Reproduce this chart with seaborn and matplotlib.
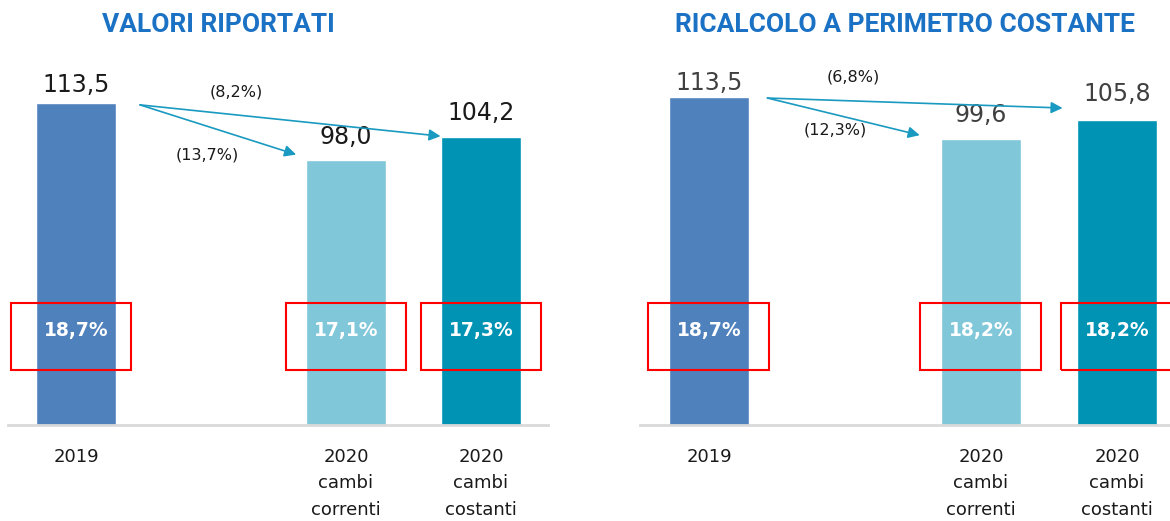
import matplotlib
matplotlib.use("Agg")
import matplotlib.pyplot as plt
import matplotlib.transforms as mtransforms
from matplotlib.patches import Rectangle
import seaborn as sns
import pandas as pd

sns.set_theme(style="white")
plt.rcParams['font.family'] = ['DejaVu Sans']

# ---------------- data ----------------
categories = ["2019", "2020\ncambi\ncorrenti", "2020\ncambi\ncostanti"]
positions = [0, 2, 3]
panel_titles = ["VALORI RIPORTATI", "RICALCOLO A PERIMETRO COSTANTE"]
values_reported = [113.5, 98.0, 104.2]
values_constant = [113.5, 99.6, 105.8]
margin_reported = ["18,7%", "17,1%", "17,3%"]
margin_constant = ["18,7%", "18,2%", "18,2%"]
value_labels_reported = ["113,5", "98,0", "104,2"]
value_labels_constant = ["113,5", "99,6", "105,8"]
change_reported = ["(13,7%)", "(8,2%)"]   # to correnti, to costanti
change_constant = ["(12,3%)", "(6,8%)"]

colors = ["#4F81BD", "#7FC7D9", "#0093B4"]
title_color = "#1B72C4"
arrow_color = "#1A9AC0"

W, H = 1170, 521
fig = plt.figure(figsize=(W / 100, H / 100), dpi=100)

panels = [
    dict(title=panel_titles[0], values=values_reported, margins=margin_reported,
         vlabels=value_labels_reported, changes=change_reported,
         px=(8, 548), xlim=(-0.504, 3.496), ylim=(26.0, 125.2), title_x=218,
         vcolor="#1a1a1a", voff=[18, 23, 24],
         arrow_start=(0.474, 113.0), arrow_ends=[(1.63, 99.5), (2.70, 104.5)],
         change_pos=[(0.97, 99.4), (1.19, 116.5)], box_dx=[-0.04, 0.0, 0.0]),
    dict(title=panel_titles[1], values=values_constant, margins=margin_constant,
         vlabels=value_labels_constant, changes=change_constant,
         px=(640, 1170), xlim=(-0.507, 3.39), ylim=(4.9, 125.8), title_x=905,
         vcolor="#404040", voff=[14, 24, 26],
         arrow_start=(0.43, 113.2), arrow_ends=[(1.55, 100.9), (2.60, 109.9)],
         change_pos=[(0.93, 102.6), (1.06, 120.1)], box_dx=[0.0, 0.0, 0.03]),
]

ax_bottom_px, ax_top_px = 425, 60
for p in panels:
    x0, x1 = p["px"]
    ax = fig.add_axes([x0 / W, (H - ax_bottom_px) / H, (x1 - x0) / W,
                       (ax_bottom_px - ax_top_px) / H])
    df = pd.DataFrame({"pos": positions, "value": p["values"], "cat": categories})
    sns.barplot(data=df, x="pos", y="value", hue="cat", native_scale=True,
                palette=dict(zip(categories, colors)), width=0.59, dodge=False,
                legend=False, saturation=1, ax=ax)
    ax.set_xlim(*p["xlim"])
    ax.set_ylim(*p["ylim"])
    ax.set_xlabel("")
    ax.set_ylabel("")
    ax.set_yticks([])
    ax.set_xticks(positions)
    ax.set_xticklabels(categories, fontsize=13, color="#1a1a1a", linespacing=1.6,
                       va="top")
    ax.tick_params(axis="x", length=0, pad=16.5)
    for s in ["top", "left", "right"]:
        ax.spines[s].set_visible(False)
    ax.spines["bottom"].set_color("#D9D9D9")
    ax.spines["bottom"].set_linewidth(2)

    # value labels above bars
    for xp, v, lab, off in zip(positions, p["values"], p["vlabels"], p["voff"]):
        ax.annotate(lab, (xp, v), xytext=(0, off * 0.72), textcoords="offset points",
                    ha="center", va="center", fontsize=17, color=p["vcolor"])

    # margin labels and red boxes
    trans = mtransforms.blended_transform_factory(ax.transData, ax.transAxes)
    for xp, m, dx in zip(positions, p["margins"], p["box_dx"]):
        ax.text(xp, 0.26, m, transform=trans, ha="center", va="center",
                fontsize=13.5, fontweight="bold", color="white")
        ax.add_patch(Rectangle((xp + dx - 0.445, 0.151), 0.89, 0.183, transform=trans,
                               fill=False, edgecolor="#FF0000", lw=1.5, clip_on=False))

    # arrows
    for end in p["arrow_ends"]:
        ax.annotate("", xy=end, xytext=p["arrow_start"],
                    arrowprops=dict(arrowstyle="-|>", color=arrow_color, lw=1.2,
                                    mutation_scale=17, shrinkA=0, shrinkB=0))
    for lab, pos in zip(p["changes"], p["change_pos"]):
        ax.text(pos[0], pos[1], lab, ha="center", va="center", fontsize=11.5,
                color="#1a1a1a")

    fig.text(p["title_x"] / W, 1 - 25 / H, p["title"], ha="center", va="center",
             fontsize=19, fontweight="bold", color=title_color, family="Roboto")

fig.savefig("out.png", dpi=100, facecolor="white")
